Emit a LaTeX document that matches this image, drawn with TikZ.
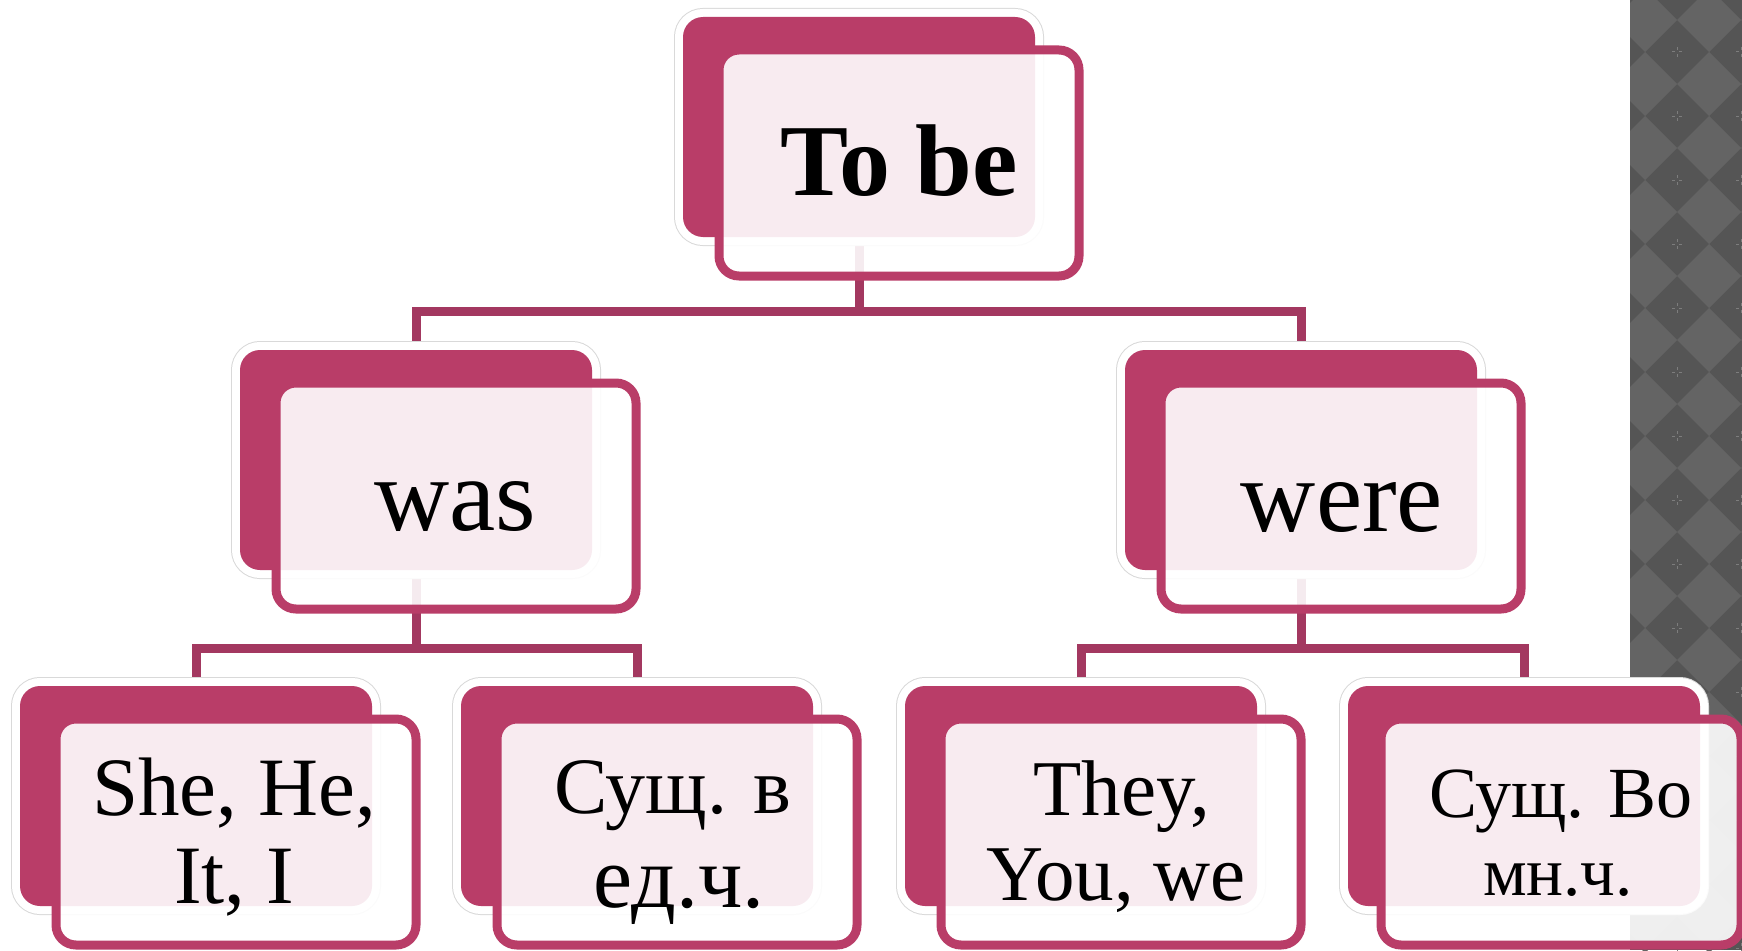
\documentclass[tikz,border=0pt]{standalone}
\usepackage{fontspec}
\setmainfont{Liberation Serif}
\pgfdeclarelayer{bg}
\pgfsetlayers{bg,main}
\definecolor{mag}{RGB}{185,61,104}
\definecolor{connc}{RGB}{163,56,96}
\definecolor{darkg}{RGB}{85,85,85}
\definecolor{lightg}{RGB}{100,100,100}
\definecolor{crossg}{RGB}{125,125,125}
\tikzset{
  backbox/.style={rectangle, rounded corners=20pt, minimum width=352pt, minimum height=220pt,
    inner sep=0pt, fill=mag, preaction={draw=black!15, line width=18pt},
    preaction={draw=white, line width=16pt}},
  frontbox/.style={rectangle, rounded corners=20pt, minimum width=360pt, minimum height=226pt,
    inner sep=0pt, draw=mag, line width=9pt, fill=white, fill opacity=0.9},
  conn/.style={draw=connc, line width=9pt},
  lbl/.style={anchor=base, inner sep=0pt, text=black},
}
\newcommand{\fsz}[1]{\fontsize{#1}{#1}\selectfont}
\begin{document}
\begin{tikzpicture}[x=1pt,y=-1pt]
\useasboundingbox (0,0) rectangle (1742,950);
% back boxes
\node[backbox] (tbB) at (859,127) {};
\node[backbox] (wasB) at (416,460) {};
\node[backbox] (wereB) at (1301,460) {};
\node[backbox] (b1B) at (196,796) {};
\node[backbox] (b2B) at (637,796) {};
\node[backbox] (b3B) at (1081,796) {};
\node[backbox] (b4B) at (1524,796) {};
\coordinate (j0) at (859,311);
\coordinate (j1) at (416,648);
\coordinate (j2) at (1301,648);
\begin{pgfonlayer}{bg}
  \fill[white] (0,0) rectangle (1742,950);
  \begin{scope}
    \clip (1630,0) rectangle (1742,950);
    \fill[darkg] (1630,0) rectangle (1742,950);
    \foreach \i in {0,1,2}{
      \foreach \j in {0,...,15}{
        \pgfmathsetmacro{\cx}{1645+64*\i}
        \pgfmathsetmacro{\cy}{20+64*\j}
        \fill[lightg] (\cx-32,\cy) -- (\cx,\cy-32) -- (\cx+32,\cy) -- (\cx,\cy+32) -- cycle;
        \pgfmathsetmacro{\dx}{1677+64*\i}
        \pgfmathsetmacro{\dy}{52+64*\j}
        \draw[crossg, line width=1pt] (\dx-5,\dy) -- (\dx-2,\dy) (\dx+2,\dy) -- (\dx+5,\dy)
          (\dx,\dy-5) -- (\dx,\dy-2) (\dx,\dy+2) -- (\dx,\dy+5);
      }
    }
  \end{scope}
  \draw[conn] (tbB.south) -- (j0);
  \draw[conn] (wasB.north) |- (j0) -| (wereB.north);
  \draw[conn] (wasB.south) -- (j1);
  \draw[conn] (b1B.north) |- (j1) -| (b2B.north);
  \draw[conn] (wereB.south) -- (j2);
  \draw[conn] (b3B.north) |- (j2) -| (b4B.north);
\end{pgfonlayer}
% front boxes
\node[frontbox] (tbF) at (899,163) {};
\node[frontbox] (wasF) at (456,496) {};
\node[frontbox] (wereF) at (1341,496) {};
\node[frontbox] (b1F) at (236,832) {};
\node[frontbox] (b2F) at (677,832) {};
\node[frontbox] (b3F) at (1121,832) {};
\node[frontbox] (b4F) at (1561,832) {};
% texts
\node[lbl, font=\bfseries\fsz{102}] (tTobe) at (899,195) {To be};
\node[lbl, font=\fsz{104}] (tWas) at (455,530) {was};
\node[lbl, font=\fsz{104}] (tWere) at (1342,531) {were};
\node[lbl, font=\fsz{83}] (t1a) at (234,815) {She, He,};
\node[lbl, font=\fsz{83}] (t1b) at (234,903) {It, I};
\node[lbl, font=\fsz{80}] (t2a) at (673,813) {Сущ. в};
\node[lbl, font=\fsz{88}] (t2b) at (679,907) {ед.ч.};
\node[lbl, font=\fsz{79}] (t3a) at (1122,815) {They,};
\node[lbl, font=\fsz{79}] (t3b) at (1116,900) {You, we};
\node[lbl, font=\fsz{72}] (t4a) at (1561,817) {Сущ. Во};
\node[lbl, font=\fsz{69}] (t4b) at (1558,895) {мн.ч.};
\end{tikzpicture}
\end{document}
